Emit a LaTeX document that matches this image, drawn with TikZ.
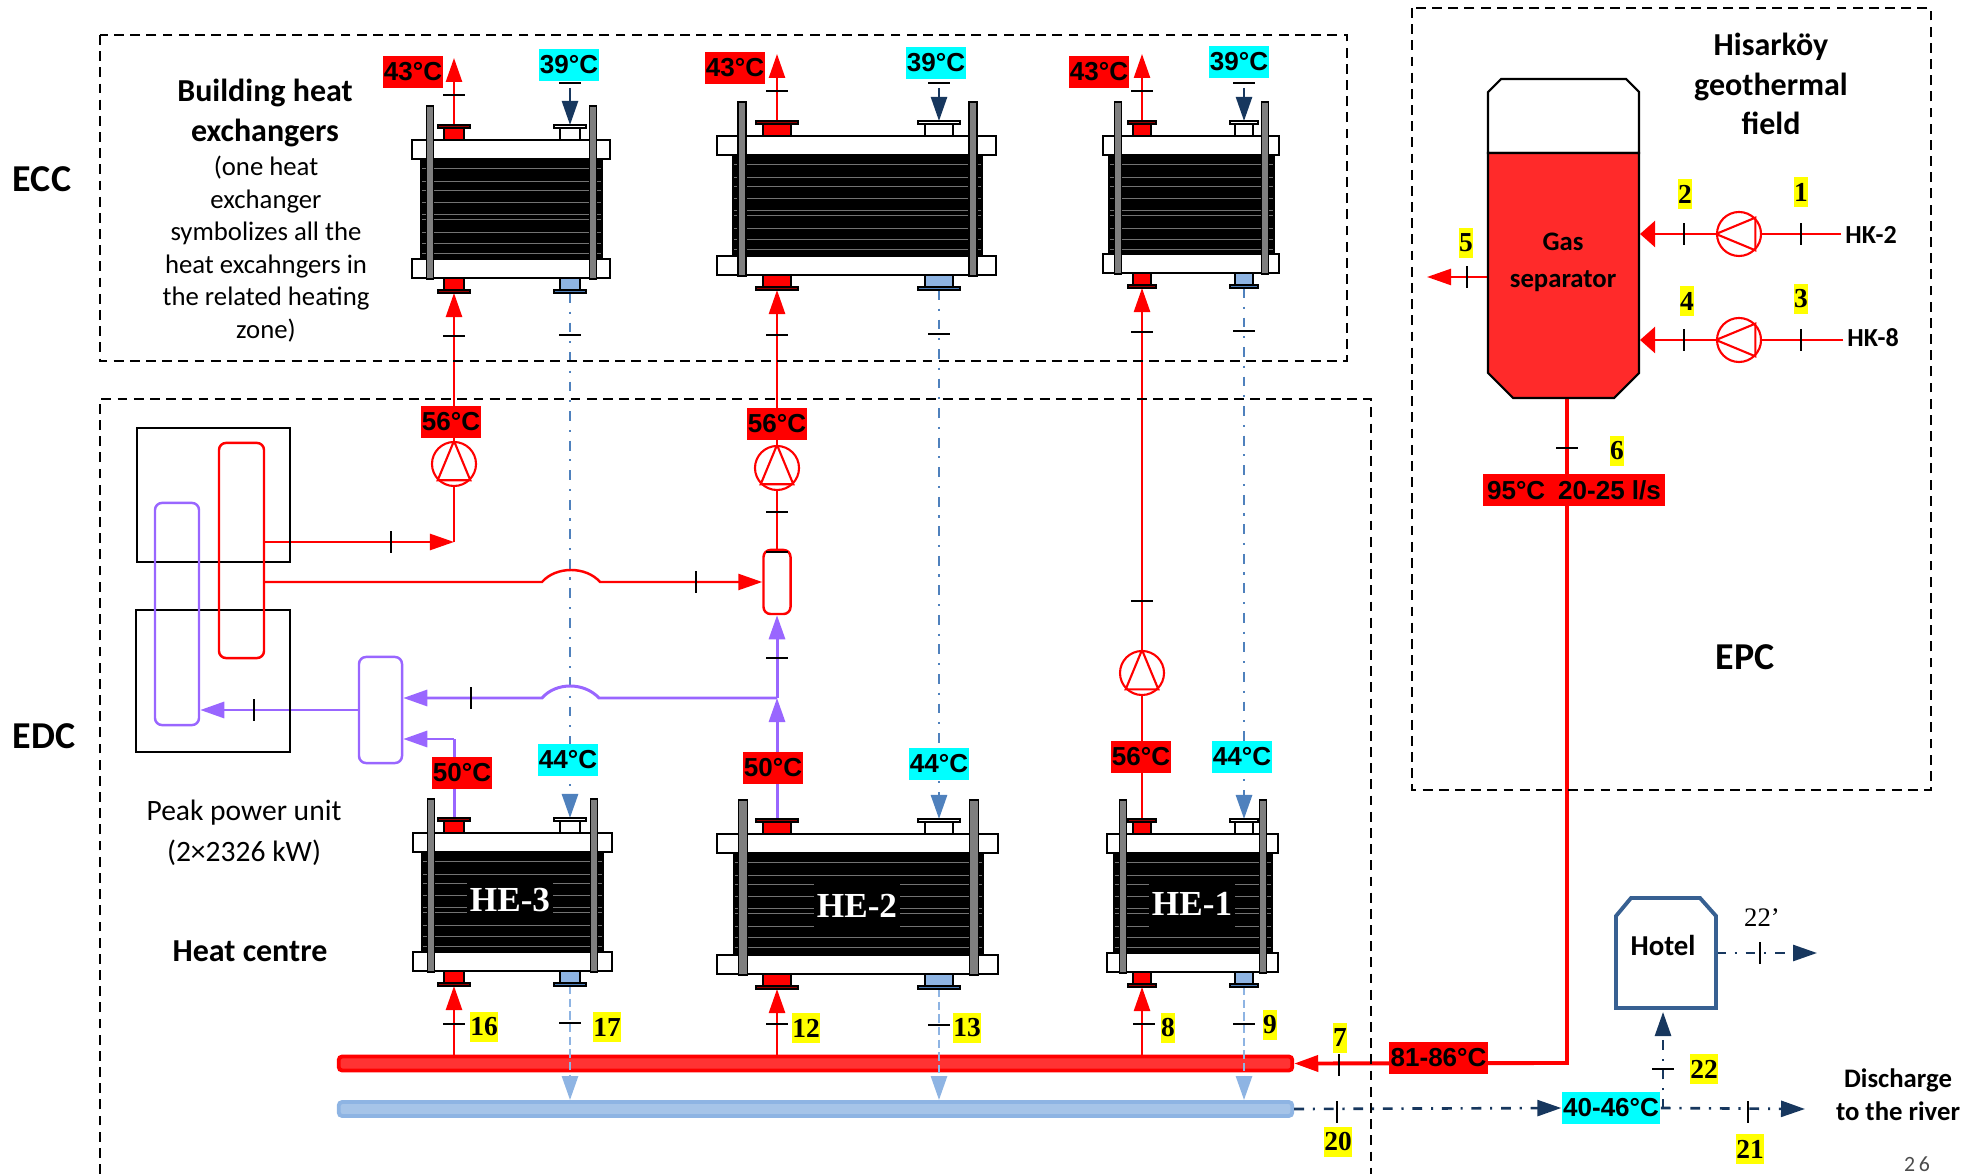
\documentclass[tikz,border=0pt]{standalone}
\usepackage{fontspec}
\setmainfont{Carlito}
\newfontfamily\tempfont{Liberation Sans}
\newfontfamily\numfont{Liberation Serif}
\usetikzlibrary{arrows.meta, calc}
\pgfdeclarelayer{headerlayer}
\pgfdeclarelayer{pipelayer}
\pgfsetlayers{headerlayer,pipelayer,main}
\definecolor{hotred}{RGB}{255,0,0}
\definecolor{hotfill}{RGB}{255,51,51}
\definecolor{vesselred}{RGB}{255,42,42}
\definecolor{purplepipe}{RGB}{153,102,255}
\definecolor{coldblue}{RGB}{79,129,189}
\definecolor{lightblue}{RGB}{142,180,227}
\definecolor{lightfill}{RGB}{166,196,232}
\definecolor{navypipe}{RGB}{23,55,94}
\definecolor{hotelblue}{RGB}{55,96,146}
\definecolor{bargray}{RGB}{127,127,127}
\definecolor{coldtag}{RGB}{0,255,255}
\definecolor{numyellow}{RGB}{255,255,0}

\begin{document}
\begin{tikzpicture}[
    x=0.01cm,
    y=-0.01cm,
    redtip/.tip={Triangle[length=2.4mm, width=1.6mm]},
    widetip/.tip={Triangle[length=1.5mm, width=2.6mm]},
    redpipe/.style={color=hotred, line width=0.7pt},
    redarrow/.style={redpipe, -redtip},
    widearrow/.style={redpipe, -widetip},
    mainpipe/.style={color=hotred, line width=1.1pt},
    purplepipeline/.style={color=purplepipe, line width=0.85pt},
    purplearrow/.style={purplepipeline, -redtip},
    coldline/.style={color=coldblue, line width=0.8pt, dash pattern=on 2.8pt off 2.5pt on 0.6pt off 2.5pt, -redtip},
    returnline/.style={color=lightblue, line width=0.8pt, dash pattern=on 2.4pt off 1.2pt, -redtip},
    navyline/.style={color=navypipe, line width=0.75pt, dash pattern=on 2.8pt off 2.5pt on 0.6pt off 2.5pt, -redtip},
    navyarrow/.style={color=navypipe, line width=0.7pt, -redtip},
    zonebox/.style={draw=black, line width=0.5pt, dash pattern=on 2.8pt off 1.8pt},
    tempbase/.style={inner sep=0pt, minimum height=0.32cm, font=\tempfont\bfseries\fontsize{7.4}{8}\selectfont},
    temphot/.style={tempbase, fill=hotred, minimum width=0.6cm},
    tempcold/.style={tempbase, fill=coldtag, minimum width=0.6cm},
    numtag/.style={fill=numyellow, inner xsep=0pt, inner ysep=0pt, minimum height=0.3cm, font=\numfont\bfseries\fontsize{7.8}{8}\selectfont},
    zonetext/.style={font=\bfseries\fontsize{10.8}{12}\selectfont},
    bigtext/.style={font=\bfseries\fontsize{9.1}{11.2}\selectfont, align=center},
    tagtext/.style={font=\bfseries\fontsize{7.4}{10.6}\selectfont, align=center},
    tickh/.style={fill=black, inner sep=0pt, minimum width=0.22cm, minimum height=0.6pt},
    tickv/.style={fill=black, inner sep=0pt, minimum height=0.22cm, minimum width=0.6pt},
    pumpnode/.style={circle, draw=hotred, line width=0.6pt, inner sep=0pt, minimum size=0.44cm},
    pumpmark/.style={draw=hotred, line width=0.6pt},
    unitbox/.style={draw=black, line width=0.75pt, inner sep=0pt},
    coilred/.style={draw=hotred, line width=0.7pt, rounded corners=2pt, inner sep=0pt},
    coilpurple/.style={draw=purplepipe, line width=0.7pt, rounded corners=2pt, inner sep=0pt},
    headerpipe/.style={line width=1.1pt, rounded corners=1pt, inner sep=0pt, minimum width=9.53cm, minimum height=0.14cm},
    hename/.style={fill=black, text=white, inner sep=0pt, minimum width=0.86cm, minimum height=0.45cm, font=\numfont\bfseries\fontsize{10}{12}\selectfont}
]
\useasboundingbox (0,0) rectangle (1980,1174);

%% HEAT EXCHANGERS - name/left/right/top/bottom/bars/ports/collar %%
\foreach \hename/\xl/\xr/\ytop/\ybot/\barl/\barr/\barw/\porta/\portb/\coll/\flan in {
    ecc1/412/610/140/278/430/593/7/454/570/10/16,
    ecc2/717/996/136/275/742/973/8/777/939/14/21,
    ecc3/1103/1279/136/273/1118/1265/7/1142/1244/9/14,
    he3/413/612/833/971/431/594/7/454/570/10/16,
    he2/717/998/834/974/743/974/9/777/939/14/21,
    he1/1107/1278/834/972/1123/1263/7/1142/1244/9/14}
{
    \fill [black] (\barl-10,\ytop+19) rectangle (\barr+10,\ybot-19);
    \foreach \k in {9,22,31,43,55,60,73,84,94}
        \draw [white!45!black, line width=0.15pt] (\barl-8,\ytop+19+\k) -- (\barr+8,\ytop+19+\k);
    \draw [black, fill=white, line width=0.6pt] (\xl,\ytop) rectangle (\xr,\ytop+19);
    \draw [black, fill=white, line width=0.6pt] (\xl,\ybot-19) rectangle (\xr,\ybot);
    \draw [black, fill=bargray, line width=0.5pt] (\barl-\barw/2,\ytop-34) rectangle (\barl+\barw/2,\ybot+1);
    \draw [black, fill=bargray, line width=0.5pt] (\barr-\barw/2,\ytop-34) rectangle (\barr+\barw/2,\ybot+1);
    % top ports
    \draw [black, fill=hotred, line width=0.6pt] (\porta-\coll,\ytop-12) rectangle (\porta+\coll,\ytop);
    \draw [black, fill=hotred!60!black, line width=0.6pt] (\porta-\flan,\ytop-15) rectangle (\porta+\flan,\ytop-12);
    \draw [black, fill=white, line width=0.6pt] (\portb-\coll,\ytop-12) rectangle (\portb+\coll,\ytop);
    \draw [black, fill=white, line width=0.6pt] (\portb-\flan,\ytop-15) rectangle (\portb+\flan,\ytop-12);
    % bottom ports
    \draw [black, fill=hotred, line width=0.6pt] (\porta-\coll,\ybot) rectangle (\porta+\coll,\ybot+12);
    \draw [black, fill=hotred!60!black, line width=0.6pt] (\porta-\flan,\ybot+12) rectangle (\porta+\flan,\ybot+15);
    \draw [black, fill=lightblue, line width=0.6pt] (\portb-\coll,\ybot) rectangle (\portb+\coll,\ybot+12);
    \draw [black, fill=coldblue, line width=0.6pt] (\portb-\flan,\ybot+12) rectangle (\portb+\flan,\ybot+15);
    \coordinate (\hename-ta) at (\porta,\ytop-15);
    \coordinate (\hename-tb) at (\portb,\ytop-15);
    \coordinate (\hename-ba) at (\porta,\ybot+15);
    \coordinate (\hename-bb) at (\portb,\ybot+15);
}

%% HE LABELS %%
\node (he3name) [hename] at (510,900) {HE-3};
\node (he2name) [hename] at (857,906) {HE-2};
\node (he1name) [hename] at (1192,904) {HE-1};

%% ZONE BOXES %%
\draw [zonebox] (100,35) rectangle (1347,361);
\draw [zonebox] (100,1174) -- (100,399) -- (1371,399) -- (1371,1174);
\draw [zonebox] (1412,8) rectangle (1931,790);

%% TEXT %%
\node (ecclabel) [zonetext] at (42,179) {ECC};
\node (edclabel) [zonetext] at (44,736) {EDC};
\node (epclabel) [zonetext] at (1745,657) {EPC};
\node (buildingname) [bigtext] at (265,113) {Building heat\\exchangers};
\node (buildingnote) [align=center, font=\fontsize{7.6}{9.25}\selectfont] at (266,249) {(one heat\\exchanger\\symbolizes all the\\heat excahngers in\\the related heating\\zone)};
\node (peakname) [align=center, font=\fontsize{8.4}{11.8}\selectfont] at (244,833) {Peak power unit\\(2×2326 kW)};
\node (centrename) [bigtext] at (250,951) {Heat centre};
\node (fieldname) [bigtext] at (1771,84) {Hisarköy\\geothermal\\field};
\node (dischargename) [tagtext, font=\bfseries\fontsize{7.6}{9.3}\selectfont] at (1898,1095) {Discharge\\to the river};

%% PEAK POWER UNIT %%
\node (upperunit) [unitbox, minimum width=1.53cm, minimum height=1.34cm] at (213.5,495) {};
\node (lowerunit) [unitbox, minimum width=1.54cm, minimum height=1.42cm] at (213,681) {};
\node (redcoil) [coilred, minimum width=0.45cm, minimum height=2.15cm] at (241.5,550.5) {};
\node (purplecoil) [coilpurple, minimum width=0.44cm, minimum height=2.22cm] at (177,614) {};
\node (hotmix) [coilred, minimum width=0.27cm, minimum height=0.64cm] at (777,582) {};
\node (coldmix) [coilpurple, minimum width=0.43cm, minimum height=1.06cm] at (380.5,710) {};

%% PUMPS %%
\node (pumpa) [pumpnode] at (454,464) {};
\node (pumpb) [pumpnode] at (777,468) {};
\node (pumpc) [pumpnode] at (1142,673) {};
\node (pumpd) [pumpnode] at (1739,234) {};
\node (pumpe) [pumpnode] at (1739,340) {};
\foreach \pumpname in {pumpa,pumpb,pumpc}
    \draw [pumpmark] (\pumpname.north) -- (\pumpname.-45) -- (\pumpname.-135) -- cycle;
\foreach \pumpname in {pumpd,pumpe}
    \draw [pumpmark] (\pumpname.west) -- (\pumpname.45) -- (\pumpname.-45) -- cycle;

%% GAS SEPARATOR %%
\draw [black, fill=white, line width=0.6pt] (1488,153) -- (1488,92) -- (1501,79) -- (1626,79) -- (1639,92) -- (1639,153) -- cycle;
\draw [black, fill=vesselred, line width=0.6pt] (1488,153) -- (1639,153) -- (1639,373) -- (1614,398) -- (1513,398) -- (1488,373) -- cycle;
\node (vesselname) [tagtext, font=\bfseries\fontsize{7.6}{10.6}\selectfont] at (1563,262) {Gas\\separator};
\coordinate (vesselina) at (1640,234);
\coordinate (vesselinb) at (1640,340);
\coordinate (vesselout) at (1488,277);
\coordinate (gasvent) at (1427,277);
\coordinate (vesselbottom) at (1567,398);
\coordinate (mainbend) at (1567,1063);

%% HOTEL %%
\draw [draw=hotelblue, fill=white, line width=1.1pt] (1616,1008) -- (1616,916) -- (1631,898) -- (1700,898) -- (1716,916) -- (1716,1008) -- cycle;
\node (hotelname) [tagtext, font=\bfseries\fontsize{8.2}{9}\selectfont] at (1663,945) {Hotel};
\coordinate (hotelin) at (1663,1012);
\coordinate (hotelout) at (1716,953);
\coordinate (hotelend) at (1817,953);
\coordinate (hotelfeed) at (1663,1109);
\coordinate (riverend) at (1805,1109);

%% HEADERS %%
\begin{pgfonlayer}{headerlayer}
    \node (hotheader) [headerpipe, fill=hotfill, draw=hotred] at (815.5,1063.5) {};
    \node (coldheader) [headerpipe, fill=lightfill, draw=lightblue] at (815.5,1109) {};
\end{pgfonlayer}

%% TEMPERATURES %%
\node (tempa) [temphot] at (413,72) {43°C};
\node (tempb) [tempcold] at (569,65) {39°C};
\node (tempc) [temphot] at (735,68) {43°C};
\node (tempd) [tempcold] at (936,63) {39°C};
\node (tempe) [temphot] at (1099,72) {43°C};
\node (tempf) [tempcold] at (1239,62) {39°C};
\node (tempg) [temphot] at (451,422) {56°C};
\node (temph) [temphot] at (777,424) {56°C};
\node (tempi) [temphot] at (1141,757) {56°C};
\node (tempj) [temphot] at (462,773) {50°C};
\node (tempk) [temphot] at (773,768) {50°C};
\node (templ) [tempcold] at (568,760) {44°C};
\node (tempm) [tempcold] at (939,764) {44°C};
\node (tempn) [tempcold] at (1242,757) {44°C};
\node (tempmain) [tempbase, fill=hotred, minimum width=1.81cm] at (1574,490) {95°C\hspace{0.5em}20-25 l/s};
\node (tempin) [tempbase, fill=hotred, minimum width=0.99cm] at (1438.5,1058) {81-86°C};
\node (tempout) [tempbase, fill=coldtag, minimum width=0.98cm] at (1611,1108) {40-46°C};

%% NUMBERS %%
\node (numa) [numtag] at (1801,192) {1};
\node (numb) [numtag] at (1685,194) {2};
\node (numc) [numtag] at (1801,299) {3};
\node (numd) [numtag] at (1687,301) {4};
\node (nume) [numtag] at (1466,243) {5};
\node (numf) [numtag] at (1617,451) {6};
\node (numg) [numtag] at (1340,1038) {7};
\node (numh) [numtag] at (1168,1028) {8};
\node (numi) [numtag] at (1270,1025) {9};
\node (numj) [numtag] at (806,1028) {12};
\node (numk) [numtag] at (967,1028) {13};
\node (numl) [numtag] at (484,1027) {16};
\node (numm) [numtag] at (607,1027) {17};
\node (numn) [numtag] at (1338,1142) {20};
\node (numo) [numtag] at (1750,1149) {21};
\node (nump) [numtag] at (1704,1069) {22};
\node (numq) [inner sep=0pt, font=\numfont\fontsize{7.6}{8}\selectfont] at (1762,918) {22’};
\node (pagenum) [inner sep=0pt, text=black!70, font=\fontsize{6.2}{7}\selectfont] at (1917,1164) {2\,6};

%% HK WELLS %%
\node (hkb) [inner xsep=1pt, font=\bfseries\fontsize{7.4}{8}\selectfont] at (1871,235) {HK-2};
\node (hkc) [inner xsep=1pt, font=\bfseries\fontsize{7.4}{8}\selectfont] at (1873,338) {HK-8};

%% PIPES %%
\begin{pgfonlayer}{pipelayer}
    % building loops
    \draw [redarrow] (ecc1-ta) -- ++(0,-67) coordinate (ecc1out);
    \draw [redarrow] (ecc2-ta) -- ++(0,-67) coordinate (ecc2out);
    \draw [redarrow] (ecc3-ta) -- ++(0,-67) coordinate (ecc3out);
    \draw [navyarrow] (570,88) coordinate (ecc1in) -- (ecc1-tb);
    \draw [navyarrow] (939,88) coordinate (ecc2in) -- (ecc2-tb);
    \draw [navyarrow] (1244,88) coordinate (ecc3in) -- (ecc3-tb);
    \draw [redarrow] (pumpa.north) -- (ecc1-ba);
    \draw [redarrow] (pumpb.north) -- (ecc2-ba);
    \draw [redarrow] (pumpc.north) -- (ecc3-ba);
    \draw [coldline] (ecc1-bb) -- (he3-tb);
    \draw [coldline] (ecc2-bb) -- (he2-tb);
    \draw [coldline] (ecc3-bb) -- (he1-tb);
    % peak power unit
    \coordinate (upperjoin) at (454,542);
    \coordinate (lowerjoin) at (777,698);
    \coordinate (coilfeed) at (264,582);
    \coordinate (coldjoin) at (454,739);
    \draw [redarrow] (redcoil.east |- upperjoin) -- (upperjoin);
    \draw [redpipe] (upperjoin) -- (pumpa.south);
    \draw [redarrow] (coilfeed) -- (542,582) .. controls (556,566) and (586,566) .. (600,582) -- (hotmix.west);
    \draw [redpipe] (hotmix.north) -- (pumpb.south);
    \draw [purplearrow] (he2-ta) -- (lowerjoin);
    \draw [purplearrow] (lowerjoin) -- (hotmix.south);
    \draw [purplearrow] (lowerjoin) -- (599,698) .. controls (584,682) and (556,682) .. (542,698) -- (coldmix.east |- lowerjoin);
    \draw [purplepipeline] (he3-ta) -- (coldjoin);
    \draw [purplearrow] (coldjoin) -- (coldmix.east |- coldjoin);
    \draw [purplearrow] (coldmix.west) -- (purplecoil.east |- coldmix.west);
    % heat centre
    \draw [redarrow] (he1-ba |- hotheader.north) -- (he1-ba);
    \draw [redarrow] (he2-ba |- hotheader.north) -- (he2-ba);
    \draw [redarrow] (he3-ba |- hotheader.north) -- (he3-ba);
    \draw [returnline] (he1-bb) -- (he1-bb |- coldheader.north);
    \draw [returnline] (he2-bb) -- (he2-bb |- coldheader.north);
    \draw [returnline] (he3-bb) -- (he3-bb |- coldheader.north);
    \draw [redpipe] (he1-ta) -- (pumpc.south);
    % geothermal field
    \draw [redpipe] (hkb.west |- pumpd.east) -- (pumpd.east);
    \draw [redpipe] (hkc.west |- pumpe.east) -- (pumpe.east);
    \draw [widearrow] (pumpd.west) -- (vesselina);
    \draw [widearrow] (pumpe.west) -- (vesselinb);
    \draw [redarrow] (vesselout) -- (gasvent);
    \draw [mainpipe, -redtip] (vesselbottom) -- (mainbend) -- (hotheader.east);
    % discharge
    \draw [navyline] (coldheader.east) -- (tempout.west);
    \draw [navyline] (tempout.east) -- (riverend);
    \draw [navyline] (hotelfeed) -- (hotelin);
    \draw [navyline] (hotelout) -- (hotelend);
\end{pgfonlayer}

%% TICK MARKS %%
\foreach \tickname/\tickx/\ticky in {
    taa/454/95, tab/570/83, tac/777/91, tad/939/83, tae/1142/91, taf/1244/83,
    tag/454/336, tah/570/335, tai/777/335, taj/939/334, tak/1142/332, tal/1244/331,
    tam/777/512, tan/777/552, tao/777/658, tap/1142/601,
    taq/454/1024, tar/570/1023, tas/777/1024, tat/939/1025, tau/1144/1024, tav/1244/1024,
    taw/1567/448, tax/1663/1069}
    \node (\tickname) [tickh] at (\tickx,\ticky) {};
\foreach \tickname/\tickx/\ticky in {
    tva/391/542, tvb/696/582, tvc/471/698, tvd/254/710,
    tve/1684/234, tvf/1801/234, tvg/1684/340, tvh/1801/340, tvi/1467/277,
    tvj/1339/1065, tvk/1337/1112, tvl/1748/1112, tvm/1760/953}
    \node (\tickname) [tickv] at (\tickx,\ticky) {};

\end{tikzpicture}
\end{document}
